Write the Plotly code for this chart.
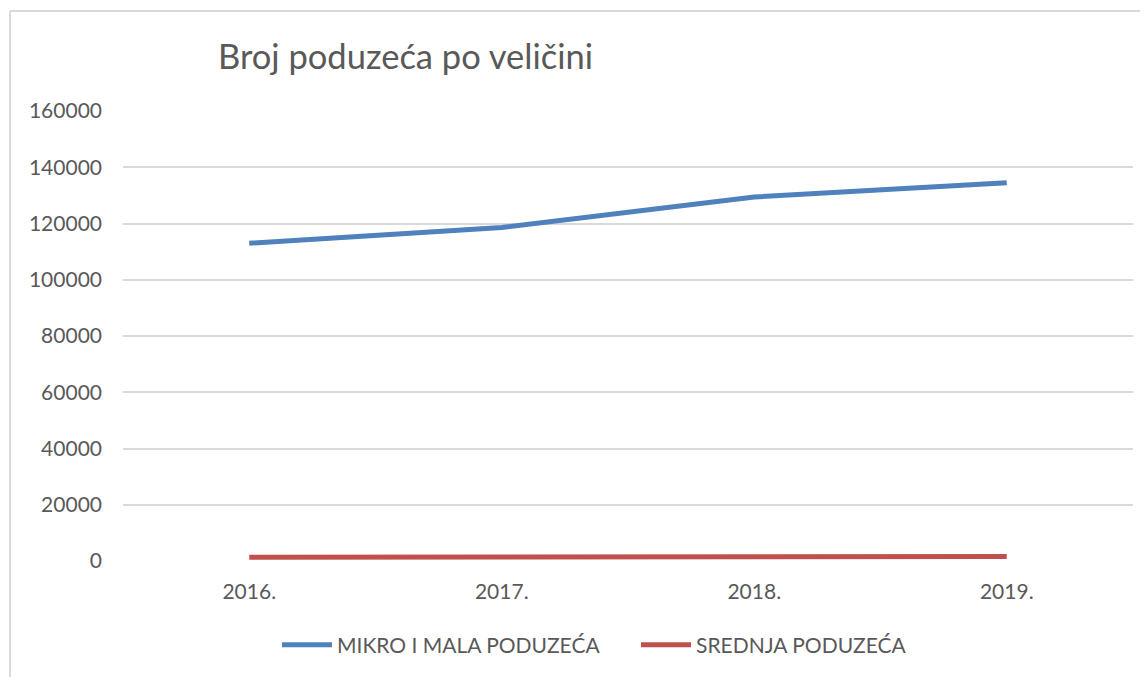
import plotly.graph_objects as go

years = ["2016.", "2017.", "2018.", "2019."]
mikro_mala = [113000, 118600, 129400, 134500]
srednja = [1300, 1400, 1500, 1600]
series_names = ["MIKRO I MALA PODUZEĆA", "SREDNJA PODUZEĆA"]
colors = ["#4f81bd", "#c0504d"]
title_text = "Broj poduzeća po veličini"

# page body has an 8px margin; figure coordinates below are page - 8
OFF = 8
W, H = 1148 - OFF, 677 - OFF
ml, mr, mt, mb = 123 - OFF, 15, 111 - OFF, 116
pw = W - ml - mr
ph = H - mt - mb

def px_x(page_x):
    return (page_x - OFF - ml) / pw

def px_y(page_y):
    return (mt + ph - (page_y - OFF)) / ph

fig = go.Figure()
legends = ["legend", "legend2"]
for name, vals, c, lg in zip(series_names, [mikro_mala, srednja], colors, legends):
    fig.add_trace(go.Scatter(x=years, y=vals, mode="lines", name=name,
                             line=dict(color=c, width=5), legend=lg))

font = "Lato, Carlito, Calibri, sans-serif"
bx = px_x(10)
by = px_y(11)
fig.add_shape(type="line", xref="paper", yref="paper", x0=bx, x1=1.2, y0=by, y1=by,
              line=dict(color="#d9d9d9", width=2))
fig.add_shape(type="line", xref="paper", yref="paper", x0=bx, x1=bx, y0=by, y1=-0.5,
              line=dict(color="#d9d9d9", width=2))

leg_common = dict(orientation="h", yanchor="middle", xanchor="left",
                  font=dict(family=font, size=21, color="#595959"),
                  itemwidth=50, bgcolor="rgba(0,0,0,0)")

fig.update_layout(
    width=W, height=H,
    margin=dict(l=ml, r=mr, t=mt, b=mb),
    paper_bgcolor="white", plot_bgcolor="white",
    font=dict(family=font, size=21, color="#595959"),
    title=dict(text=title_text, xref="paper", x=px_x(218), xanchor="left",
               yref="container", y=1 - (57 - OFF) / H, yanchor="middle",
               font=dict(family=font, size=34.5, color="#595959")),
    xaxis=dict(type="category", range=[-0.5, 3.5], showgrid=False, zeroline=False,
               showline=False, ticks="", ticklabelstandoff=16),
    yaxis=dict(range=[0, 160000], dtick=20000, tickformat="d", showgrid=True,
               gridcolor="#d9d9d9", gridwidth=1.5, zeroline=False, showline=False,
               ticks="", ticklabelstandoff=20),
    legend=dict(x=px_x(277), y=px_y(645), **leg_common),
    legend2=dict(x=px_x(636), y=px_y(645), **leg_common),
    showlegend=True,
)

fig.write_html("out.html")
